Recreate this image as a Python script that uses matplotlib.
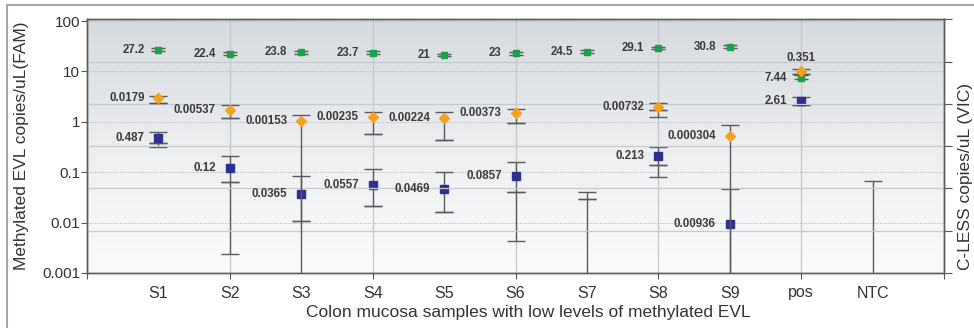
import matplotlib
matplotlib.use('Agg')
import matplotlib.pyplot as plt
import numpy as np
from matplotlib.colors import LinearSegmentedColormap
from matplotlib.patches import Rectangle
from matplotlib.ticker import NullLocator

plt.rcParams['font.family'] = ['Liberation Sans', 'DejaVu Sans']

nan = np.nan
samples = ['S1', 'S2', 'S3', 'S4', 'S5', 'S6', 'S7', 'S8', 'S9', 'pos', 'NTC']

# C-LESS (green, left scale)
cless = [27.2, 22.4, 23.8, 23.7, 21, 23, 24.5, 29.1, 30.8, 7.44, nan]
cless_lo = [25.0, 21.0, 22.2, 22.0, 19.8, 21.5, 23.0, 27.4, 29.0, 7.14, nan]
cless_hi = [29.6, 24.0, 25.5, 25.5, 22.4, 24.6, 26.1, 30.9, 32.7, 8.57, nan]

# methylated EVL (blue, left scale); 0 means the bound is below the axis
evl = [0.487, 0.12, 0.0365, 0.0557, 0.0469, 0.0857, nan, 0.213, 0.00936, 2.61, nan]
evl_hi = [0.634, 0.211, 0.085, 0.117, 0.102, 0.161, 0.0408, 0.319, 0.047, 3.13, 0.067]
evl_lo = [0.383, 0.0645, 0.0109, 0.0216, 0.0164, 0.0408, 0.0297, 0.14, 0, 2.17, 0]
evl_lo2 = [0.319, 0.0024, nan, nan, nan, 0.0044, 0, 0.081, nan, nan, nan]

# fractional abundance (orange, right scale)
ratio = [0.0179, 0.00537, 0.00153, 0.00235, 0.00224, 0.00373, nan, 0.00732, 0.000304, 0.351, nan]
ratio_hi = [0.0234, 0.00877, 0.00295, 0.00409, 0.00409, 0.00568, nan, 0.0109, 0.000995, 0.42, nan]
ratio_lo = [0.0109, 0.00213, 0, 0.000373, 0.000194, 0.00124, nan, 0.0051, 0, 0.27, nan]
ratio_lo2 = [nan, nan, nan, nan, nan, nan, nan, 0.00238, nan, nan, nan]

left_ticks = [1e-3, 1e-2, 1e-1, 1, 10, 100]
left_labels = ['0.001', '0.01', '0.1', '1', '10', '100']
right_ticks = [1e-10, 1e-8, 1e-6, 1e-4, 1e-2, 1, 100]

FLOOR = 1e-14
ERR = '#5a5a5a'
TXT = '#3a3a3a'


def bars(ax, x, hi, lo, capsize=6.5):
    hi = np.asarray(hi, float)
    lo = np.asarray(lo, float)
    lo = np.where(lo == 0, FLOOR, lo)
    ax.errorbar(x, hi, yerr=[hi - lo, np.zeros_like(hi)], fmt='none',
                ecolor=ERR, elinewidth=1.0, capsize=capsize, capthick=1.0, zorder=3)


def labels(top, src, x, vals, dx=-10):
    # text goes on the top axes so no grid line is drawn over it
    for xi, v in zip(x, vals):
        if np.isnan(v):
            continue
        top.annotate('{:g}'.format(v), (xi, v), xycoords=src.transData,
                     xytext=(dx, 0), textcoords='offset points',
                     ha='right', va='center', fontsize=8.3, fontweight='bold', color=TXT, zorder=5)


fig = plt.figure(figsize=(9.74, 3.28), dpi=100)
W, H = 974, 328
ax = fig.add_axes([87 / W, 1 - 273 / H, (944 - 87) / W, (273 - 19) / H])

# outer frame
fig.patches.append(Rectangle((7 / W, -0.05), 1.1, 1 - 5 / H + 0.05, transform=fig.transFigure,
                             fill=False, edgecolor='#a8a8a8', lw=1.5))

# gradient background
cmap = LinearSegmentedColormap.from_list('bg', ['#fbfbfb', '#eceef0', '#d6dade'])
grad = np.linspace(0, 1, 256).reshape(-1, 1)
ax.imshow(grad, extent=[0, 1, 0, 1], transform=ax.transAxes, cmap=cmap, aspect='auto',
          origin='lower', zorder=0)

x = np.arange(1, len(samples) + 1)

ax.set_yscale('log')
ax.set_xlim(0, 12)
ax.set_ylim(1e-3, 10 ** 2.04)

ax2 = ax.twinx()
ax2.set_yscale('log')
ax2.set_ylim(1e-10, 10 ** 2.01)

# error bars
bars(ax, x, cless_hi, cless_lo, capsize=5)
bars(ax, x, evl_hi, evl_lo)
bars(ax, x, evl_lo, evl_lo2)
bars(ax2, x, ratio_hi, ratio_lo)
bars(ax2, x, ratio_lo, ratio_lo2)

# markers
ax.plot(x, cless, 's', color='#17a24b', ms=4.6, zorder=4)
ax.plot(x, evl, 's', color='#2d3192', ms=5.4, zorder=4)
ax2.plot(x, ratio, 'D', color='#f6a11f', ms=5.2, zorder=4)

labels(ax2, ax, x, cless)
labels(ax2, ax, x, evl)
labels(ax2, ax2, x[:9], ratio[:9])
ax2.annotate('{:g}'.format(ratio[9]), (x[9], ratio[9]), xytext=(0, 5), textcoords='offset points',
             ha='center', va='bottom', fontsize=8.3, fontweight='bold', color=TXT)

# axes styling
ax.set_yticks(left_ticks)
ax.set_yticklabels(left_labels)
ax.yaxis.set_minor_locator(NullLocator())
ax.tick_params(axis='y', direction='out', length=4, width=0.8, color='#555555',
               labelsize=11, labelcolor='#333333', pad=1)
ax.yaxis.grid(True, linestyle=(0, (1.5, 1.5)), color='#b4b7bb', lw=0.6)

ax.xaxis.remove_overlapping_locs = False
ax.set_xticks(range(0, 13, 2))
ax.set_xticklabels([])
ax.set_xticks(x, minor=True)
ax.set_xticklabels(samples, minor=True)
ax.tick_params(axis='x', which='major', direction='out', length=4, width=0.8, color='#555555')
ax.tick_params(axis='x', which='minor', length=0, pad=9, labelsize=11.5, labelcolor='#333333')
ax.xaxis.grid(True, which='major', color='#c4c7cb', lw=0.9)

ax2.set_yticks(right_ticks)
ax2.set_yticklabels([])
ax2.yaxis.set_minor_locator(NullLocator())
ax2.tick_params(axis='y', direction='out', length=6, width=0.8, color='#555555')
ax2.yaxis.grid(True, color='#c6c9cd', lw=0.9)

for a in (ax, ax2):
    for s in a.spines.values():
        s.set_color('#5c5c5c')
        s.set_linewidth(1.0)

fig.text(528 / W, 1 - 312 / H, 'Colon mucosa samples with low levels of methylated EVL',
         ha='center', va='center', fontsize=12.5, color='#333333')
fig.text(22 / W, 1 - 146 / H, 'Methylated EVL copies/uL(FAM)', rotation=90,
         ha='center', va='center', fontsize=12.5, color='#333333')
fig.text(958 / W, 1 - 176 / H, 'C-LESS copies/uL (VIC)', rotation=90,
         ha='left', va='center', fontsize=12.5, color='#333333')

fig.savefig('out.png', dpi=100)
